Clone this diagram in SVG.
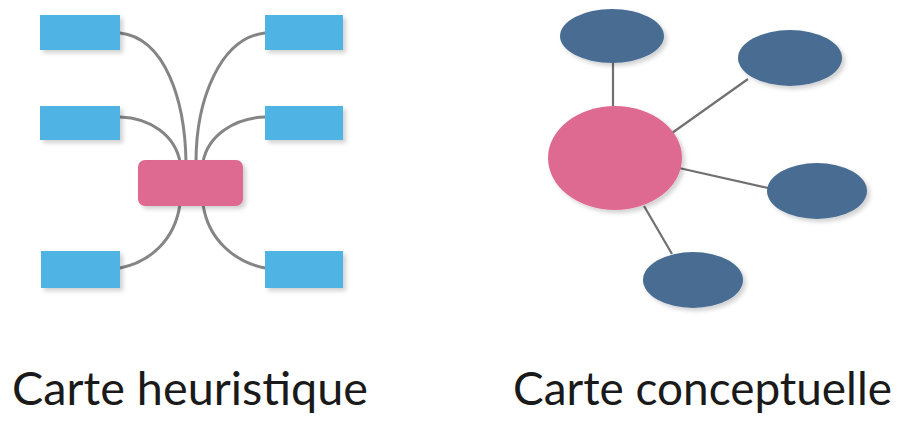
<svg xmlns="http://www.w3.org/2000/svg" width="902" height="421" viewBox="0 0 902 421">
  <defs>
    <filter id="shadow" x="-20%" y="-20%" width="150%" height="150%">
      <feDropShadow dx="3" dy="3" stdDeviation="2" flood-color="#000" flood-opacity="0.18"/>
    </filter>
  </defs>
  <style>
    .topic { fill: #4fb4e4; filter: url(#shadow); }
    .central { fill: #df6b91; filter: url(#shadow); }
    .concept { fill: #4a6c93; filter: url(#shadow); }
    .branch { fill: none; stroke: #858585; stroke-width: 3; stroke-linecap: round; }
    .link { fill: none; stroke: #707070; stroke-width: 2.2; }
    .caption { font-family: Lato, "Open Sans", "DejaVu Sans", sans-serif; font-size: 47px; fill: #1a1a1a; }
  </style>

  <!-- mind map branches -->
  <g id="mindmap-connectors">
    <path class="branch" d="M120,33 C165,38 185,100 186,162"/>
    <path class="branch" d="M265,33 C220,38 196,100 196,162"/>
    <path class="branch" d="M120,117 C150,118 175,135 180,162"/>
    <path class="branch" d="M265,117 C235,118 208,135 203,162"/>
    <path class="branch" d="M120,268 C150,262 175,240 180,204"/>
    <path class="branch" d="M265,268 C235,262 208,240 203,204"/>
  </g>

  <g id="topic-tl"><rect class="topic" x="40" y="15" width="80" height="35"/></g>
  <g id="topic-tr"><rect class="topic" x="265" y="15" width="78" height="35"/></g>
  <g id="topic-ml"><rect class="topic" x="40" y="106" width="80" height="34"/></g>
  <g id="topic-mr"><rect class="topic" x="265" y="106" width="78" height="34"/></g>
  <g id="topic-bl"><rect class="topic" x="41" y="251" width="79" height="37"/></g>
  <g id="topic-br"><rect class="topic" x="265" y="251" width="78" height="37"/></g>
  <g id="central-topic"><rect class="central" x="138" y="160" width="105" height="46" rx="7"/></g>

  <!-- concept map links -->
  <g id="conceptmap-connectors">
    <line class="link" x1="613" y1="62" x2="613" y2="106"/>
    <line class="link" x1="672" y1="133" x2="748" y2="79"/>
    <line class="link" x1="679" y1="168" x2="768" y2="188"/>
    <line class="link" x1="644" y1="206" x2="672" y2="254"/>
  </g>

  <g id="concept-top"><ellipse class="concept" cx="612" cy="36" rx="52" ry="27"/></g>
  <g id="concept-upper-right"><ellipse class="concept" cx="790" cy="58" rx="52" ry="28"/></g>
  <g id="concept-right"><ellipse class="concept" cx="817" cy="191" rx="50" ry="28"/></g>
  <g id="concept-bottom"><ellipse class="concept" cx="693" cy="280" rx="50" ry="28"/></g>
  <g id="central-concept"><ellipse class="central" cx="615" cy="158" rx="67" ry="52"/></g>

  <g id="captions">
    <text class="caption" x="12" y="405" textLength="356" lengthAdjust="spacingAndGlyphs">Carte heuristique</text>
    <text class="caption" x="513" y="405" textLength="379" lengthAdjust="spacingAndGlyphs">Carte conceptuelle</text>
  </g>
</svg>
